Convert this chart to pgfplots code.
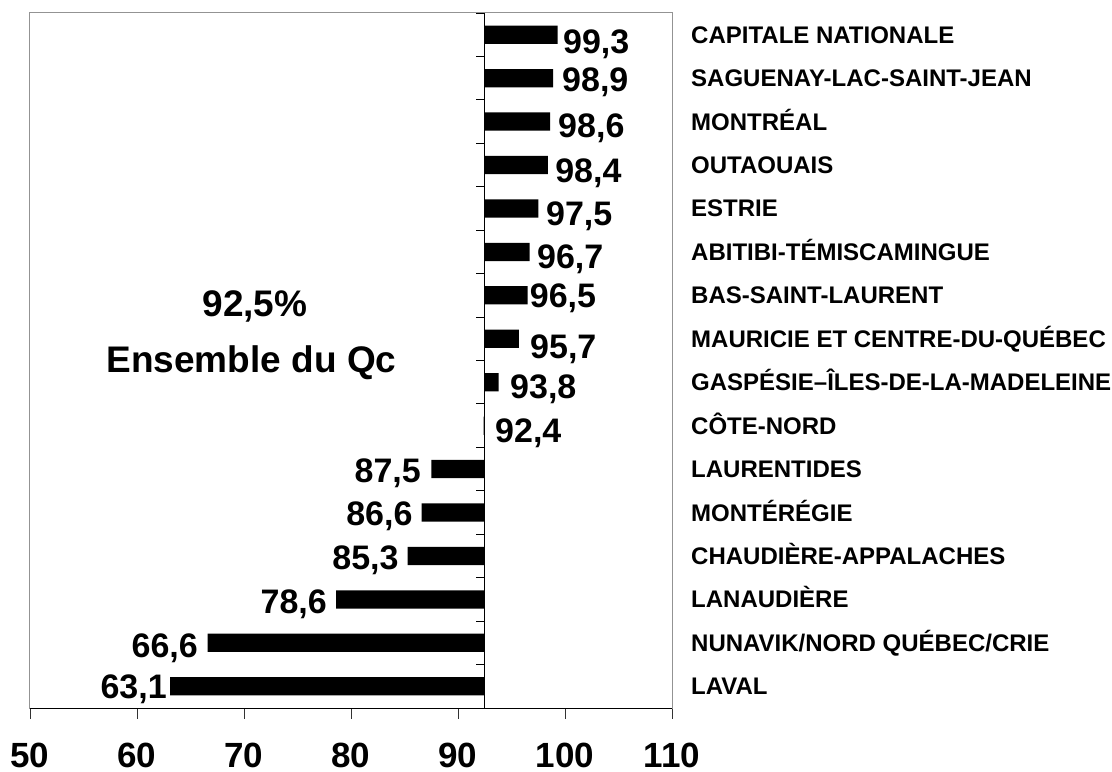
\documentclass[border=0pt]{standalone}
\usepackage{fontspec}
\setmainfont{Liberation Sans}
\usepackage{pgfplots}
\pgfplotsset{compat=1.18}
\usepackage{pgfplotstable}

\pgfplotstableread{
y v
0 63.1
1 66.6
2 78.6
3 85.3
4 86.6
5 87.5
6 92.4
7 93.8
8 95.7
9 96.5
10 96.7
11 97.5
12 98.4
13 98.6
14 98.9
15 99.3
}\bars

\pgfplotstableread{
x y lab
99.81 14.844 99,3
99.72 13.958 98,9
99.35 12.899 98,6
99.07 11.863 98,4
98.22 10.884 97,5
97.38 9.895 96,7
96.70 8.985 96,5
96.73 7.823 95,7
94.86 6.902 93,8
93.46 5.889 92,4
}\poslab

\pgfplotstableread{
x y lab
86.54 4.97 87,5
85.76 3.97 86,6
84.46 2.97 85,3
77.76 1.95 78,6
65.70 0.94 66,6
62.80 0.0 63,1
}\neglab

\newcommand{\valfont}{\fontsize{34bp}{40bp}\selectfont\bfseries}

\begin{document}
\begin{tikzpicture}
\useasboundingbox (0,0) rectangle (1112bp,772bp);
\begin{axis}[
  at={(30bp,64bp)}, anchor=south west,
  scale only axis, width=642bp, height=695bp,
  x coord trafo/.code={\pgfmathparse{#1-92.5}},
  x coord inv trafo/.code={\pgfmathparse{#1+92.5}},
  xmin=50, xmax=110, ymin=-0.5, ymax=15.5,
  clip=false,
  axis line style={draw=gray!85, line width=1bp},
  xtick={50,60,70,80,90,100,110},
  xticklabels={50,60,70,80,90,100,110},
  xtick pos=bottom,
  tick align=outside,
  major tick length=11bp,
  x tick style={black!80, line width=0.9bp},
  xticklabel style={font=\fontsize{35bp}{40bp}\selectfont\bfseries, anchor=base, inner sep=0pt, yshift=-48bp},
  ytick={0,...,15},
  yticklabels={LAVAL,NUNAVIK/NORD QUÉBEC/CRIE,LANAUDIÈRE,CHAUDIÈRE-APPALACHES,MONTÉRÉGIE,LAURENTIDES,CÔTE-NORD,GASPÉSIE–ÎLES-DE-LA-MADELEINE,MAURICIE ET CENTRE-DU-QUÉBEC,BAS-SAINT-LAURENT,ABITIBI-TÉMISCAMINGUE,ESTRIE,OUTAOUAIS,MONTRÉAL,SAGUENAY-LAC-SAINT-JEAN,CAPITALE NATIONALE},
  yticklabel pos=right,
  y tick style={draw=none},
  yticklabel style={font=\fontsize{24bp}{28bp}\selectfont\bfseries, anchor=west, inner sep=0pt, xshift=8bp, text height=17bp, text depth=0pt},
]
\addplot[xbar, bar width=0.42, fill=black, draw=none] table[x=v, y=y] {\bars};

\addplot[draw=none, mark=none, nodes near coords, point meta=explicit symbolic,
  every node near coord/.append style={anchor=base west, inner sep=0pt, yshift=-12bp, font=\valfont, text=black}]
  table[x=x, y=y, meta=lab] {\poslab};

\addplot[draw=none, mark=none, nodes near coords, point meta=explicit symbolic,
  every node near coord/.append style={anchor=base east, inner sep=0pt, yshift=-12bp, font=\valfont, text=black}]
  table[x=x, y=y, meta=lab] {\neglab};

\draw[black, line width=1bp] (axis cs:92.5,-0.5) -- (axis cs:92.5,15.5);
\pgfplotsinvokeforeach{-0.5,0.5,...,15.5}{\draw[black, line width=0.9bp] (axis cs:92.5,#1) -- ([xshift=-9bp]axis cs:92.5,#1);}
\draw[black, line width=1bp] (rel axis cs:0,0) -- (rel axis cs:1,0);

\node[anchor=base, inner sep=0pt, font=\fontsize{37bp}{40bp}\selectfont\bfseries] at (axis cs:71.03,8.502) {92,5\%};
\node[anchor=base, inner sep=0pt, font=\fontsize{37bp}{40bp}\selectfont\bfseries] at (axis cs:70.7,7.213) {Ensemble du Qc};
\end{axis}
\end{tikzpicture}
\end{document}
